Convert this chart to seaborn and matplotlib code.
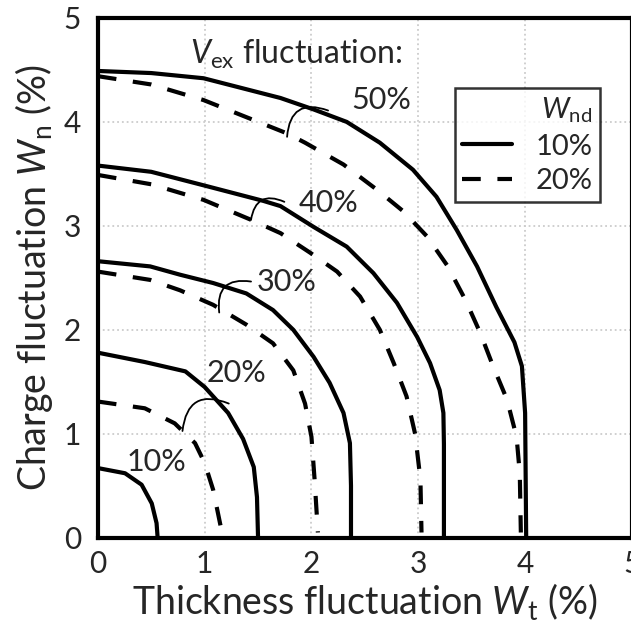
import numpy as np
import pandas as pd
import seaborn as sns
import matplotlib.pyplot as plt
import matplotlib

sns.set_style("white")
plt.rcParams['font.family'] = ['Lato', 'DejaVu Sans']
plt.rcParams['mathtext.fontset'] = 'custom'
plt.rcParams['mathtext.rm'] = 'Lato'
plt.rcParams['mathtext.it'] = 'Lato:italic'

# curves: (thickness Wt, charge Wn), per Vex level and Wnd
vex_10_solid_x = [0.0, 0.255, 0.41, 0.505, 0.55, 0.56]
vex_10_solid_y = [0.67, 0.62, 0.51, 0.33, 0.14, 0.0]

vex_20_solid_x = [0.0, 0.44, 0.82, 1.00, 1.22, 1.36, 1.46, 1.49, 1.50]
vex_20_solid_y = [1.78, 1.69, 1.60, 1.45, 1.20, 0.95, 0.68, 0.39, 0.0]
vex_20_dash_x = [0.0, 0.44, 0.72, 0.91, 1.00, 1.08, 1.16]
vex_20_dash_y = [1.31, 1.245, 1.10, 0.91, 0.72, 0.46, 0.06]

vex_30_solid_x = [0.0, 0.49, 0.77, 1.08, 1.39, 1.64, 1.83, 2.02, 2.17, 2.30, 2.36, 2.37, 2.37]
vex_30_solid_y = [2.66, 2.61, 2.53, 2.45, 2.35, 2.19, 2.00, 1.74, 1.49, 1.20, 0.91, 0.50, 0.0]
vex_30_dash_x = [0.0, 0.49, 0.77, 1.08, 1.39, 1.64, 1.83, 1.94, 2.00, 2.03, 2.06]
vex_30_dash_y = [2.56, 2.48, 2.38, 2.24, 2.05, 1.87, 1.61, 1.29, 0.97, 0.55, 0.05]

vex_40_solid_x = [0.0, 0.50, 0.99, 1.55, 1.71, 2.02, 2.33, 2.58, 2.80, 2.99, 3.11, 3.20, 3.235, 3.24, 3.24]
vex_40_solid_y = [3.58, 3.52, 3.39, 3.24, 3.19, 2.99, 2.80, 2.545, 2.26, 1.93, 1.68, 1.42, 1.20, 0.90, 0.0]
vex_40_dash_x = [0.0, 0.50, 0.99, 1.43, 1.71, 1.99, 2.24, 2.455, 2.64, 2.77, 2.89, 2.97, 3.02, 3.03]
vex_40_dash_y = [3.49, 3.40, 3.25, 3.06, 2.93, 2.74, 2.56, 2.32, 2.00, 1.68, 1.36, 1.00, 0.56, 0.05]

vex_50_solid_x = [0.0, 0.50, 0.99, 1.71, 2.02, 2.33, 2.64, 2.95, 3.17, 3.36, 3.55, 3.73, 3.90, 3.97, 4.00, 4.01]
vex_50_solid_y = [4.49, 4.47, 4.42, 4.23, 4.12, 4.00, 3.80, 3.54, 3.28, 2.96, 2.61, 2.22, 1.88, 1.65, 1.20, 0.0]
vex_50_dash_x = [0.0, 0.50, 0.99, 1.77, 1.94, 2.30, 2.61, 2.86, 3.08, 3.27, 3.44, 3.58, 3.70, 3.83, 3.92, 3.95, 3.96]
vex_50_dash_y = [4.44, 4.36, 4.21, 3.89, 3.80, 3.59, 3.35, 3.14, 2.90, 2.62, 2.29, 1.97, 1.65, 1.33, 0.97, 0.62, 0.05]

vex_labels = ['10%', '20%', '30%', '40%', '50%']
label_x = [0.55, 1.30, 1.77, 2.16, 2.65]
label_y = [0.73, 1.585, 2.46, 3.22, 4.21]
# bracket: start near the solid line, end on the dashed line (no bracket for 10%)
bracket_start = [None, (1.25, 1.28), (1.46, 2.46), (1.77, 3.22), (2.18, 4.10)]
bracket_end = [None, (0.79, 1.00), (1.14, 2.14), (1.43, 3.03), (1.77, 3.83)]

curves = [
    ('10%', '10%', vex_10_solid_x, vex_10_solid_y),
    ('20%', '10%', vex_20_solid_x, vex_20_solid_y),
    ('20%', '20%', vex_20_dash_x, vex_20_dash_y),
    ('30%', '10%', vex_30_solid_x, vex_30_solid_y),
    ('30%', '20%', vex_30_dash_x, vex_30_dash_y),
    ('40%', '10%', vex_40_solid_x, vex_40_solid_y),
    ('40%', '20%', vex_40_dash_x, vex_40_dash_y),
    ('50%', '10%', vex_50_solid_x, vex_50_solid_y),
    ('50%', '20%', vex_50_dash_x, vex_50_dash_y),
]
rows = []
for vex, wnd, xs, ys in curves:
    for i, (x, y) in enumerate(zip(xs, ys)):
        rows.append({'vex': vex, 'wnd': wnd, 'order': i, 'Wt': x, 'Wn': y})
df = pd.DataFrame(rows)

fig = plt.figure(figsize=(6.31, 6.30), dpi=100)
ax = fig.add_axes([0.155, 0.1465, 0.8465, 0.825])

sns.lineplot(data=df, x='Wt', y='Wn', style='wnd', units='vex', estimator=None,
             sort=False, color='black', linewidth=3,
             dashes={'10%': '', '20%': (4.5, 4)}, ax=ax, legend=True)
for line in ax.get_lines():
    line.set_solid_joinstyle('round')
    line.set_dash_joinstyle('round')

for i, lab in enumerate(vex_labels):
    ax.text(label_x[i], label_y[i], lab, fontsize=22, ha='center', va='center')
    if bracket_start[i] is not None:
        ax.annotate('', xy=bracket_end[i], xytext=bracket_start[i],
                    arrowprops=dict(arrowstyle='-', color='black', lw=1.3,
                                    connectionstyle='arc3,rad=0.7'))

ax.text(0.86, 4.65, r'$\mathit{V}_\mathrm{ex}$ fluctuation:', fontsize=23,
        ha='left', va='center')

ax.set_xlim(0, 5)
ax.set_ylim(0, 5)
ax.set_xticks([0, 1, 2, 3, 4, 5])
ax.set_yticks([0, 1, 2, 3, 4, 5])
ax.grid(True, color='#cccccc', linestyle=':', linewidth=1.3)
ax.tick_params(axis='both', length=0, labelsize=21.5)
ax.tick_params(axis='y', pad=12)
ax.tick_params(axis='x', pad=9)
for side in ['left', 'bottom', 'top', 'right']:
    ax.spines[side].set_visible(True)
    ax.spines[side].set_linewidth(3)
    ax.spines[side].set_color('black')

ax.set_xlabel(r'Thickness fluctuation $\mathit{W}_\mathrm{t}$ (%)', fontsize=27, labelpad=2)
ax.set_ylabel(r'Charge fluctuation $\mathit{W}_\mathrm{n}$ (%)', fontsize=27, labelpad=6)

handles, labels = ax.get_legend_handles_labels()
leg = ax.legend(handles, labels, title=r'$\mathit{W}_\mathrm{nd}$', fontsize=21,
                title_fontsize=21, loc='upper left', bbox_to_anchor=(0.669, 0.865),
                borderaxespad=0, frameon=True, fancybox=False, edgecolor='black',
                handlelength=1.7, handletextpad=0.8, borderpad=0.25,
                labelspacing=0.3)
leg.get_frame().set_linewidth(1.8)
leg._legend_box.align = 'right'

fig.savefig('out.png', dpi=100)
